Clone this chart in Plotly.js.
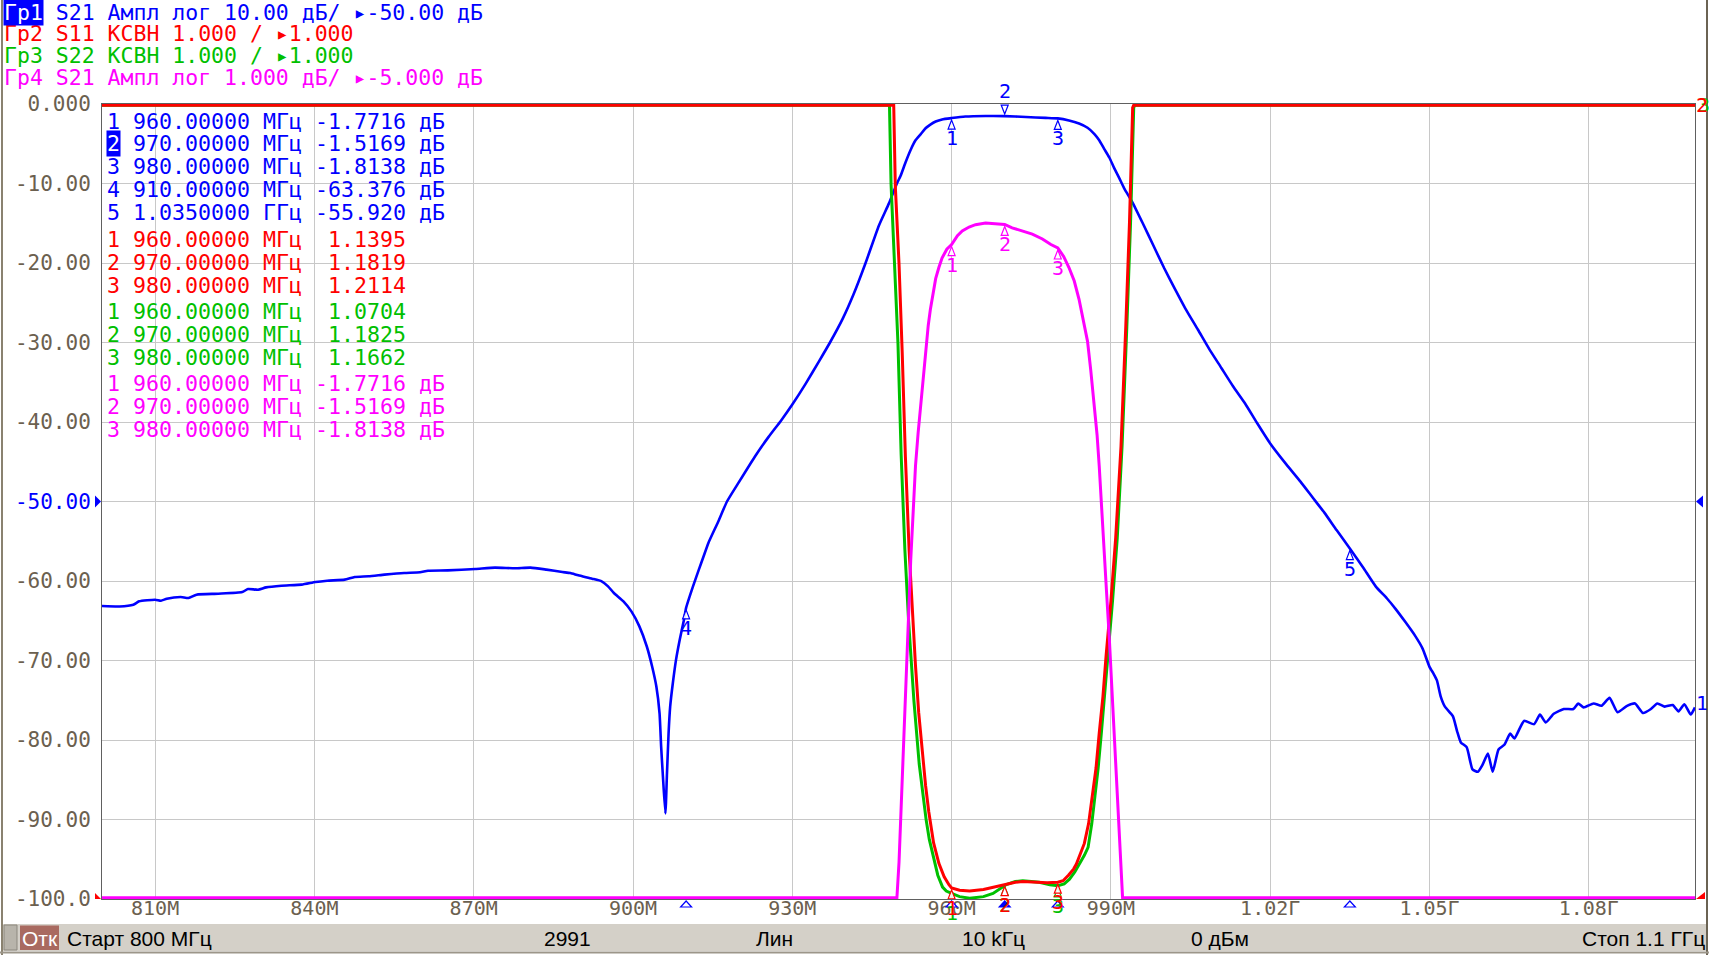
<!DOCTYPE html>
<html>
<head>
<meta charset="utf-8">
<script src="https://cdn.plot.ly/plotly-3.0.1.min.js"></script>
<style>
html,body{margin:0;padding:0;background:#fff;overflow:hidden}
#chart{width:1709px;height:955px}
</style>
</head>
<body>
<div id="chart"></div>
<script>
// ---------------- DATA ----------------
// Гр1: S21 magnitude, dB (10 dB/div, ref -50 dB at centre)
const freqGr1 = [800, 803.3, 805.9, 807, 810, 811.1, 812.2, 814.8, 816.3, 817.8, 821.9, 826.4, 827.5, 829.4, 830.9, 833.8, 837.6, 840.2, 842.4, 845.7,
  847.6, 850.2, 853.2, 856.9, 859.9, 861.4, 865.1, 870.3, 874, 877.8, 880.7, 883.7, 886.7, 888.2, 889.7, 892.3, 894.1, 895.3, 896.4, 898.2,
  899.7, 901.2, 902.6, 903.6, 904.4, 905.0, 905.3, 905.6, 906.1, 906.4, 906.7, 907.0, 907.5, 908.1, 908.8, 909.6, 910, 911.3, 912.4, 913.3,
  914.2, 916, 917.7, 920, 923, 925.5, 927.9, 930, 932.5, 935, 937.1, 939.5, 941.5, 943.8, 946.3, 948.2, 949.7, 950.4, 951.3, 952.3,
  953.2, 954.2, 955.1, 956, 957, 958.2, 960, 962.6, 966.4, 970, 974, 977.7, 980, 982.1, 984, 985.6, 986.9, 987.8, 988.7, 989.7,
  990.6, 991.6, 992.5, 994, 996, 998, 1000, 1002, 1004, 1006.4, 1008.5, 1010.8, 1013, 1015.3, 1017.5, 1020, 1023, 1025.7, 1028, 1030.2,
  1032.5, 1035, 1037.5, 1039.9, 1042, 1043.6, 1045.5, 1047.3, 1048.7, 1050, 1050.8, 1051.4, 1052.1, 1052.9, 1054.4, 1055.2, 1055.9, 1057, 1058.1, 1059.1,
  1060, 1061, 1061.9, 1063, 1064.1, 1065.2, 1066, 1067.8, 1069.7, 1070.8, 1071.9, 1073.4, 1075.3, 1077.1, 1078, 1079, 1080.9, 1082.4, 1083.9, 1085.4,
  1087.2, 1088.7, 1090.2, 1091.7, 1092.9, 1094.3, 1095.8, 1096.9, 1098, 1099.2, 1100];
const magGr1 = [-63.15, -63.2, -62.98, -62.56, -62.35, -62.48, -62.23, -62.02, -62.14, -61.72, -61.6, -61.39, -61.01, -61.09, -60.8, -60.59, -60.46, -60.13, -59.96, -59.83,
  -59.5, -59.41, -59.2, -58.99, -58.91, -58.7, -58.66, -58.49, -58.32, -58.4, -58.32, -58.57, -58.87, -59.0, -59.29, -59.71, -60.04, -60.67, -61.51, -62.56,
  -63.82, -65.71, -68.24, -70.76, -73.28, -76.64, -80.84, -84.2, -89.24, -84.2, -79.16, -75.8, -72.86, -69.92, -67.39, -64.87, -63.38, -60.67, -58.57, -56.89,
  -55.21, -52.6, -50.0, -47.5, -44.3, -41.9, -39.8, -37.8, -35.2, -32.4, -30.0, -27.0, -24.0, -20.0, -15.3, -12.5, -10.0, -9.03, -7.39, -5.75,
  -4.56, -3.78, -3.05, -2.59, -2.2, -1.94, -1.77, -1.58, -1.51, -1.52, -1.64, -1.74, -1.81, -2.07, -2.46, -2.99, -3.78, -4.56, -5.61, -6.73,
  -8.04, -9.36, -10.6, -12.3, -15.0, -17.8, -20.6, -23.2, -25.7, -28.4, -30.8, -33.2, -35.5, -37.7, -40.1, -42.7, -45.3, -47.5, -49.5, -51.4,
  -53.6, -55.92, -58.3, -60.7, -62.2, -63.5, -65.2, -66.9, -68.5, -70.8, -71.7, -72.5, -74.5, -75.8, -77, -78.9, -80.3, -80.9, -83.7, -84,
  -83.1, -81.7, -84, -81.2, -80.6, -79.2, -79.8, -77.6, -78, -76.8, -77.8, -76.7, -76.1, -76.1, -75.4, -75.9, -75.4, -75.7, -74.7, -76.5,
  -75.7, -75.4, -76.6, -76.1, -75.4, -75.8, -75.6, -76.4, -75.5, -76.8, -75.9];

// Гр2: S11 VSWR (1.000/div, ref 1.000 at bottom); 11 = clipped at top of screen
const freqGr2 = [800, 949.1, 949.4, 950.1, 950.7, 951.3, 952.0, 952.6, 953.2, 953.8, 954.5, 955.1, 955.7, 956.6, 957.6, 958.6, 959.5, 960, 961.5, 963.4,
  966, 968, 970.3, 972, 973.4, 975, 976.5, 978, 980, 981, 982, 983, 983.5, 984.3, 985, 985.8, 986.5, 987.2, 987.8, 988.5,
  989.1, 990, 990.9, 991.9, 992.8, 993.5, 994.1, 994.3, 1100];
const vswrGr2 = [11, 11, 9.98, 9.0, 7.88, 6.57, 5.39, 4.6, 3.94, 3.35, 2.83, 2.43, 2.1, 1.71, 1.45, 1.28, 1.18, 1.1395, 1.11, 1.10,
  1.12, 1.15, 1.1819, 1.21, 1.22, 1.215, 1.21, 1.205, 1.2114, 1.23, 1.30, 1.38, 1.44, 1.58, 1.7, 1.95, 2.3, 2.65, 3.09, 3.55,
  4.07, 4.75, 5.55, 6.7, 8.21, 9.52, 10.97, 11, 11];

// Гр3: S22 VSWR
const freqGr3 = [800, 948.3, 948.6, 949.3, 949.9, 950.5, 951.2, 951.9, 952.9, 953.9, 954.5, 955.2, 955.8, 956.7, 957.4, 958.3, 959, 960, 961.5, 963.4,
  966, 967.8, 970.3, 972, 973.4, 975, 976.5, 978.5, 980, 981.2, 982.2, 983.2, 984.1, 985, 985.7, 986.4, 987, 987.6, 988.2, 988.8,
  989.4, 990.3, 991.2, 992.1, 993.0, 993.7, 994.3, 994.5, 1100];
const vswrGr3 = [11, 11, 10, 9, 8, 6.6, 5.4, 4.5, 3.5, 2.7, 2.35, 2.0, 1.75, 1.5, 1.3, 1.15, 1.1, 1.0704, 1.03, 1.01,
  1.03, 1.07, 1.1825, 1.22, 1.23, 1.22, 1.21, 1.18, 1.1662, 1.19, 1.25, 1.34, 1.44, 1.55, 1.65, 1.95, 2.3, 2.65, 3.09, 3.55,
  4.07, 4.75, 5.55, 6.7, 8.21, 9.52, 10.97, 11, 11];

// Гр4: S21 magnitude, dB (1 dB/div, ref -5 dB at centre); -10 = clipped at bottom
const freqGr4 = [800, 949.7, 950.1, 950.4, 950.8, 951.3, 951.8, 952.3, 952.8, 953.2, 953.7, 954.2, 954.7, 955.1, 955.6, 956.0, 956.5, 957.0, 957.6, 958.2,
  959.1, 960, 961.1, 962, 963.3, 964.5, 966.4, 968.3, 970, 971.4, 973.3, 975.2, 977.1, 978.7, 980, 981.1, 982.1, 983.1, 984, 984.8,
  985.6, 986.2, 986.9, 987.4, 987.8, 988.3, 988.7, 989.2, 989.7, 990.2, 990.6, 991.1, 991.6, 991.9, 992.2, 1100];
const magGr4 = [-10, -10, -9.55, -9.03, -8.24, -7.39, -6.53, -5.75, -5.09, -4.56, -4.14, -3.78, -3.38, -3.05, -2.79, -2.59, -2.38, -2.2, -2.06, -1.94,
  -1.83, -1.7716, -1.66, -1.6, -1.55, -1.52, -1.50, -1.51, -1.5169, -1.56, -1.6, -1.64, -1.70, -1.77, -1.8138, -1.92, -2.06, -2.23, -2.46, -2.72,
  -2.99, -3.35, -3.78, -4.17, -4.56, -5.09, -5.61, -6.17, -6.73, -7.39, -8.04, -8.7, -9.36, -9.68, -10, -10];

// Markers
const mkFreqGr1 = [960, 970, 980, 910, 1035];
const mkValGr1 = [-1.7716, -1.5169, -1.8138, -63.376, -55.920];
const mkFreqGr2 = [960, 970, 980];
const mkValGr2 = [1.1395, 1.1819, 1.2114];
const mkFreqGr3 = [960, 970, 980];
const mkValGr3 = [1.0704, 1.1825, 1.1662];
const mkFreqGr4 = [960, 970, 980];
const mkValGr4 = [-1.7716, -1.5169, -1.8138];

// Axis ticks
const xTickVals = [810, 840, 870, 900, 930, 960, 990, 1020, 1050, 1080];
const xTickText = ['810M', '840M', '870M', '900M', '930M', '960M', '990M', '1.02Г', '1.05Г', '1.08Г'];
const yTickVals = [0, -10, -20, -30, -40, -50, -60, -70, -80, -90, -100];
const yTickText = ['0.000', '-10.00', '-20.00', '-30.00', '-40.00', '-50.00', '-60.00', '-70.00', '-80.00', '-90.00', '-100.0'];

// Header / status texts
const headerLines = ['Гр1 S21 Ампл лог 10.00 дБ/ ▸-50.00 дБ', 'Гр2 S11 КСВН 1.000 / ▸1.000', 'Гр3 S22 КСВН 1.000 / ▸1.000', 'Гр4 S21 Ампл лог 1.000 дБ/ ▸-5.000 дБ'];
const statusTexts = ['Старт 800 МГц', '2991', 'Лин', '10 kГц', '0 дБм', 'Стоп 1.1 ГГц'];

// ---------------- LAYOUT ----------------
const BLUE = '#0000ff', RED = '#ff0000', GREEN = '#00c000', MAG = '#ff00ff';
const TICKC = '#6b604f';
const MONO = 'DejaVu Sans Mono';
const NARROW = 'Liberation Sans Narrow, Liberation Sans, Arial Narrow, sans-serif';
const L = 102, R = 14, T = 104, B = 56;
const W = 1709 - L - R, H = 955 - T - B;
const px = v => (v - L) / W;
const py = v => (T + H - v) / H;
const nb = s => s.replace(/ /g, '\u00a0');

const traces = [
  {x: freqGr1, y: magGr1, yaxis: 'y', mode: 'lines', line: {color: BLUE, width: 2.6, shape: 'spline', smoothing: 0.5}, cliponaxis: false, hoverinfo: 'skip'},
  {x: freqGr3, y: vswrGr3, yaxis: 'y2', mode: 'lines', line: {color: GREEN, width: 3}, cliponaxis: false, hoverinfo: 'skip'},
  {x: freqGr2, y: vswrGr2, yaxis: 'y2', mode: 'lines', line: {color: RED, width: 3}, cliponaxis: false, hoverinfo: 'skip'},
  {x: freqGr4, y: magGr4, yaxis: 'y3', mode: 'lines', line: {color: MAG, width: 3}, cliponaxis: false, hoverinfo: 'skip'}
];

const annotations = [];
const shapes = [];

// header lines
const headerColors = [BLUE, RED, GREEN, MAG];
const headerY = [12, 33.5, 55, 77];
const HFS = 21.5;
headerLines.forEach((t, i) => {
  const txt = i === 0 ? '   ' + t.slice(3) : t;
  annotations.push({xref: 'paper', yref: 'paper', x: px(3), y: py(headerY[i]), xanchor: 'left', yanchor: 'middle',
    text: nb(txt), showarrow: false, font: {family: MONO, size: HFS, color: headerColors[i]}, borderpad: 0});
});
annotations.push({xref: 'paper', yref: 'paper', x: px(3), y: py(headerY[0]), xanchor: 'left', yanchor: 'middle',
  text: headerLines[0].slice(0, 3), showarrow: false, font: {family: MONO, size: HFS, color: '#ffffff'}, bgcolor: BLUE, borderpad: 0});

// marker table
const fmtF = f => f < 1000 ? f.toFixed(5) + ' МГц' : (f / 1000).toFixed(7) + ' ГГц';
const fmtDb = v => (Math.abs(v) < 10 ? v.toFixed(4) : v.toFixed(3)) + ' дБ';
const fmtSw = v => v.toFixed(4).padStart(7, ' ');
const tableGroups = [
  {f: mkFreqGr1, v: mkValGr1, fmt: fmtDb, c: BLUE},
  {f: mkFreqGr2, v: mkValGr2, fmt: fmtSw, c: RED},
  {f: mkFreqGr3, v: mkValGr3, fmt: fmtSw, c: GREEN},
  {f: mkFreqGr4, v: mkValGr4, fmt: fmtDb, c: MAG}
];
const TFS = 21.6;
let rowY = 121;
tableGroups.forEach((g, gi) => {
  g.f.forEach((f, i) => {
    const hl = gi === 0 && i === 1;
    annotations.push({xref: 'paper', yref: 'paper', x: px(106), y: py(rowY), xanchor: 'left', yanchor: 'middle',
      text: nb((hl ? ' ' : String(i + 1)) + ' ' + fmtF(f) + ' ' + g.fmt(g.v[i])), showarrow: false,
      font: {family: MONO, size: TFS, color: g.c}, borderpad: 0});
    if (hl) {
      annotations.push({xref: 'paper', yref: 'paper', x: px(106), y: py(rowY), xanchor: 'left', yanchor: 'middle',
        text: String(i + 1), showarrow: false, font: {family: MONO, size: TFS, color: '#ffffff'}, bgcolor: BLUE, borderpad: 0});
    }
    rowY += 22.9;
  });
  rowY += 3.7;
});

// markers on traces
const markerSets = [
  {f: mkFreqGr3, v: mkValGr3, yref: 'y2', c: GREEN, active: -1},
  {f: mkFreqGr2, v: mkValGr2, yref: 'y2', c: RED, active: -1},
  {f: mkFreqGr4, v: mkValGr4, yref: 'y3', c: MAG, active: -1},
  {f: mkFreqGr1, v: mkValGr1, yref: 'y', c: BLUE, active: 1}
];
markerSets.forEach(s => {
  s.f.forEach((f, i) => {
    const above = i === s.active;
    shapes.push({type: 'path', xref: 'x', yref: s.yref, xsizemode: 'pixel', ysizemode: 'pixel', xanchor: f, yanchor: s.v[i],
      path: above ? 'M0,2 L-3.5,11 L3.5,11 Z' : 'M0,-2 L-3.5,-11 L3.5,-11 Z',
      line: {color: s.c, width: 1.2}, fillcolor: 'rgba(255,255,255,0.9)', layer: 'above'});
    annotations.push({xref: 'x', yref: s.yref, x: f, y: s.v[i], yshift: above ? 25 : -20, xanchor: 'center', yanchor: 'middle',
      text: String(i + 1), showarrow: false, font: {family: MONO, size: 20, color: s.c}, borderpad: 0});
  });
});

// marker position indicators under the frequency axis (Гр1)
mkFreqGr1.forEach((f, i) => {
  shapes.push({type: 'path', xref: 'x', yref: 'paper', xsizemode: 'pixel', ysizemode: 'pixel', xanchor: f, yanchor: 0,
    path: 'M0,-2 L-5.5,-8 L5.5,-8 Z', line: {color: BLUE, width: 1.2}, fillcolor: i === 1 ? BLUE : '#ffffff'});
});

// reference level arrows
shapes.push({type: 'path', xref: 'paper', yref: 'y', xsizemode: 'pixel', ysizemode: 'pixel', xanchor: 0, yanchor: -50,
  path: 'M-7,6 L-1,0 L-7,-6 Z', line: {width: 0}, fillcolor: BLUE});
shapes.push({type: 'path', xref: 'paper', yref: 'y2', xsizemode: 'pixel', ysizemode: 'pixel', xanchor: 0, yanchor: 1,
  path: 'M-7,6 L-1,0 L-7,-6 Z', line: {width: 0}, fillcolor: RED});
shapes.push({type: 'path', xref: 'paper', yref: 'y', xsizemode: 'pixel', ysizemode: 'pixel', xanchor: 1, yanchor: -50,
  path: 'M1,0 L8,6 L8,-6 Z', line: {width: 0}, fillcolor: BLUE});
shapes.push({type: 'path', xref: 'paper', yref: 'y2', xsizemode: 'pixel', ysizemode: 'pixel', xanchor: 1, yanchor: 1,
  path: 'M1,0 L10,7 L10,-7 Z', line: {width: 0}, fillcolor: RED});

// trace end labels on the right
annotations.push({xref: 'paper', yref: 'y2', x: px(1704), y: 11, xanchor: 'center', yanchor: 'middle', text: '3', showarrow: false,
  font: {family: MONO, size: 20, color: GREEN}, borderpad: 0});
annotations.push({xref: 'paper', yref: 'y2', x: px(1701.5), y: 11, xanchor: 'center', yanchor: 'middle', text: '2', showarrow: false,
  font: {family: MONO, size: 20, color: RED}, borderpad: 0});
annotations.push({xref: 'paper', yref: 'y', x: px(1702), y: magGr1[magGr1.length - 1], yshift: 4, xanchor: 'center', yanchor: 'middle', text: '1', showarrow: false,
  font: {family: MONO, size: 20, color: BLUE}, borderpad: 0});

// status bar
shapes.push({type: 'rect', xref: 'paper', yref: 'paper', x0: px(3), x1: px(1706), y0: py(924), y1: py(951), fillcolor: '#d4d0c8', line: {width: 0}, layer: 'below'});
shapes.push({type: 'rect', xref: 'paper', yref: 'paper', x0: px(4), x1: px(17), y0: py(925), y1: py(950), fillcolor: '#b8b4ab', line: {color: '#8c887f', width: 1}});
shapes.push({type: 'rect', xref: 'paper', yref: 'paper', x0: px(20), x1: px(59), y0: py(925.5), y1: py(950), fillcolor: '#a96a60', line: {width: 0}});
annotations.push({xref: 'paper', yref: 'paper', x: px(39.5), y: py(938), xanchor: 'center', yanchor: 'middle', text: 'Отк', showarrow: false,
  font: {family: NARROW, size: 21, color: '#ffffff'}, borderpad: 0});
const statusX = [66, 543, 755, 961, 1190, 1706];
statusTexts.forEach((t, i) => {
  annotations.push({xref: 'paper', yref: 'paper', x: px(statusX[i]), y: py(938), xanchor: i === statusTexts.length - 1 ? 'right' : 'left', yanchor: 'middle',
    text: nb(t), showarrow: false, font: {family: NARROW, size: 21, color: '#000000'}, borderpad: 0});
});
// window frame lines
shapes.push({type: 'line', xref: 'paper', yref: 'paper', x0: px(2), x1: px(2), y0: py(0), y1: py(955), line: {color: '#8a8270', width: 2}});
shapes.push({type: 'line', xref: 'paper', yref: 'paper', x0: px(1707), x1: px(1707), y0: py(0), y1: py(955), line: {color: '#6b6353', width: 2}});
shapes.push({type: 'line', xref: 'paper', yref: 'paper', x0: px(0), x1: px(1709), y0: py(952.5), y1: py(952.5), line: {color: '#9c968a', width: 2}});

const layout = {
  width: 1709, height: 955,
  margin: {l: L, r: R, t: T, b: B, pad: 0},
  paper_bgcolor: '#ffffff', plot_bgcolor: '#ffffff',
  showlegend: false,
  xaxis: {range: [800, 1100], tickmode: 'array', tickvals: xTickVals, ticktext: xTickText,
    showgrid: true, gridcolor: '#c8c8c8', gridwidth: 1, zeroline: false,
    showline: true, mirror: true, linecolor: '#606060', linewidth: 1, ticks: '', ticklabelstandoff: -9,
    tickfont: {family: MONO, size: 20, color: TICKC}, fixedrange: true},
  yaxis: {range: [-100, 0], tickmode: 'array', tickvals: yTickVals,
    ticktext: yTickText.map(t => t === '-50.00' ? '<span style="color:' + BLUE + '">' + t + '</span>' : t),
    showgrid: true, gridcolor: '#c8c8c8', gridwidth: 1, zeroline: false,
    showline: true, mirror: true, linecolor: '#606060', linewidth: 1, ticks: '', ticklabelstandoff: 6,
    tickfont: {family: MONO, size: 21, color: TICKC}, fixedrange: true},
  // the instrument draws clipped traces on the frame edge; a hair of headroom keeps the full line width visible
  yaxis2: {range: [1, 11.015], overlaying: 'y', visible: false, fixedrange: true},
  yaxis3: {range: [-10.015, 0], overlaying: 'y', visible: false, fixedrange: true},
  annotations: annotations,
  shapes: shapes
};

Plotly.newPlot('chart', traces, layout, {displayModeBar: false, staticPlot: true});
</script>
</body>
</html>
